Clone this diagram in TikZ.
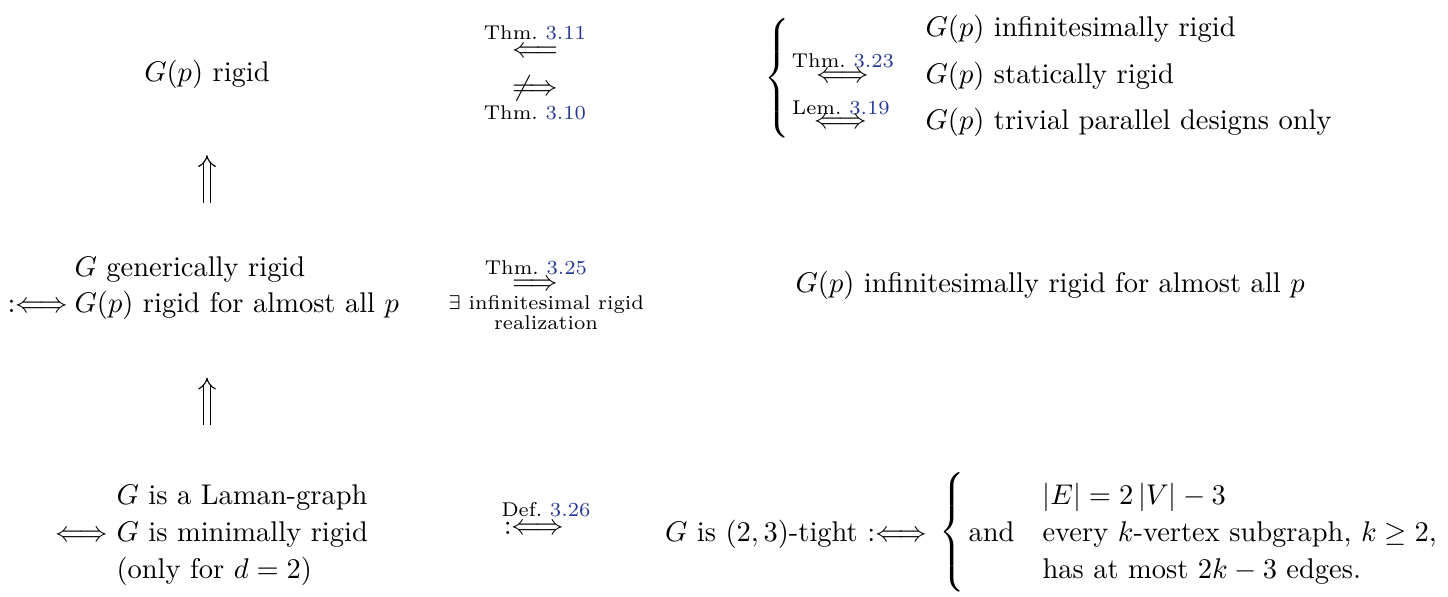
\documentclass[tikz,border=0pt]{standalone}
\usepackage{amsmath,amssymb}
\usetikzlibrary{arrows.meta,positioning}
\definecolor{refBlue}{RGB}{35,55,150}
\newcommand{\thref}[1]{\textcolor{refBlue}{#1}}
\tikzset{
  rtxt/.style={inner sep=0pt,anchor=base west},
  rlbl/.style={inner sep=0pt,anchor=base,font=\scriptsize},
  rsym/.style={inner sep=0pt},
  rimp/.style={double,double distance=1.8pt,line width=0.4pt,-{Implies}}
}
\begin{document}
\begin{tikzpicture}[x=0.351pt,y=-0.351pt]
\useasboundingbox (0,0) rectangle (1448,597);

% ---- ROW 1: RIGID ----
\node[inner sep=0pt,anchor=base] (rigid) at (207,82) {$G(p)$ rigid};
\node[rlbl] (t311) at (535,40) {Thm.~\thref{3.11}};
\node[rsym] (a311) at (535,52) {$\Longleftarrow$};
\node[rsym] (a310) at (535,88) {$\not\Longrightarrow$};
\node[rlbl] (t310) at (535,120) {Thm.~\thref{3.10}};

\node[rsym] (br1) at (779,78) {$\left\{\vcenter{\hbox{\rule{0pt}{44pt}}}\right.$};
\node[rtxt] (inf) at (925,37) {$G(p)$ infinitesimally rigid};
\node[rtxt] (stat) at (925,84) {$G(p)$ statically rigid};
\node[rtxt] (triv) at (925,130) {$G(p)$ trivial parallel designs only};
\node[rlbl] (t323) at (843,68) {Thm.~\thref{3.23}};
\node[rsym] (a323) at (843,77) {$\Longleftrightarrow$};
\node[rlbl] (l319) at (841,115) {Lem.~\thref{3.19}};
\node[rsym] (a319) at (841,123) {$\Longleftrightarrow$};

% ---- ROW 2: GENERIC ----
\node[rtxt] (gen1) at (74,277) {$G$ generically rigid};
\node[rtxt] (gen2) at (74,313) {$G(p)$ rigid for almost all $p$};
\node[inner sep=0pt,base left=2pt of gen2] (gdef) {$:\Longleftrightarrow$};
\node[rlbl] (t325) at (536,275) {Thm.~\thref{3.25}};
\node[rsym] (a325) at (535,285) {$\Longrightarrow$};
\node[rlbl] (ex1) at (546,310) {$\exists$ infinitesimal rigid};
\node[rlbl] (ex2) at (546,330) {realization};
\node[rtxt] (infall) at (795,293) {$G(p)$ infinitesimally rigid for almost all $p$};

% ---- ROW 3: LAMAN ----
\node[rtxt] (lam1) at (116,505) {$G$ is a Laman-graph};
\node[rtxt] (lam2) at (116,542) {$G$ is minimally rigid};
\node[rtxt] (lam3) at (116,579) {(only for $d=2$)};
\node[inner sep=0pt,base left=2.78pt of lam2] (ldef) {$\Longleftrightarrow$};
\node[rlbl] (d326) at (546,517) {Def.~\thref{3.26}};
\node[rsym] (a326) at (534,528) {$:\Longleftrightarrow$};

\node[inner sep=0pt,anchor=base east] (tight) at (928,542) {$G$ is $(2,3)$-tight $:\Longleftrightarrow$};
\node[rsym] (br2) at (954,532) {$\left\{\vcenter{\hbox{\rule{0pt}{44pt}}}\right.$};
\node[rtxt] (and) at (968,542) {and};
\node[rtxt] (edg) at (1042,505) {$|E| = 2\,|V| - 3$};
\node[rtxt] (sub) at (1042,542) {every $k$-vertex subgraph, $k \geq 2$,};
\node[rtxt] (most) at (1042,579) {has at most $2k-3$ edges.};

% ---- IMPLICATIONS ----
\draw[rimp,shorten <=19pt,shorten >=23pt] (rigid.south |- gen1.north) -- (rigid.south);
\draw[rimp,shorten <=21pt,shorten >=20pt] (rigid.south |- lam1.north) -- (rigid.south |- gen2.south);

\end{tikzpicture}
\end{document}
